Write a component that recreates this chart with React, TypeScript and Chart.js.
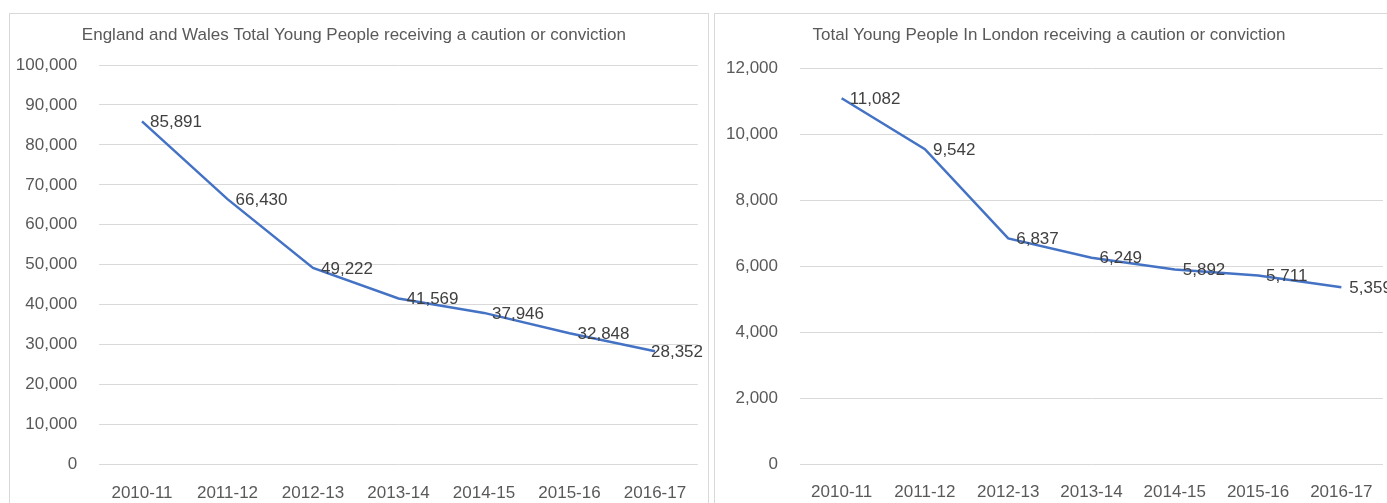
import React, { useEffect, useRef } from "react";
import { Chart, registerables } from "chart.js";

Chart.register(...registerables);

const categories = ["2010-11", "2011-12", "2012-13", "2013-14", "2014-15", "2015-16", "2016-17"];
const englandWalesValues = [85891, 66430, 49222, 41569, 37946, 32848, 28352];
const londonValues = [11082, 9542, 6837, 6249, 5892, 5711, 5359];
const englandWalesTicks = [0, 10000, 20000, 30000, 40000, 50000, 60000, 70000, 80000, 90000, 100000];
const londonTicks = [0, 2000, 4000, 6000, 8000, 10000, 12000];

const englandWalesTitle = "England and Wales Total Young People receiving a caution or conviction";
const londonTitle = "Total Young People In London receiving a caution or conviction";

const FONT = "'Liberation Sans', Arial, sans-serif";
const FONT_SIZE = 17;
const LINE_COLOR = "#4472C4";
const TEXT_COLOR = "#595959";
const LABEL_COLOR = "#404040";
const GRID_COLOR = "#d9d9d9";

const fmt = (v: number) => v.toLocaleString("en-US");

const dataLabelPlugin = {
  id: "pointLabels",
  afterDatasetsDraw(chart: any) {
    const ctx = chart.ctx;
    const meta = chart.getDatasetMeta(0);
    const data = chart.data.datasets[0].data as number[];
    ctx.save();
    ctx.font = `${FONT_SIZE}px ${FONT}`;
    ctx.fillStyle = LABEL_COLOR;
    ctx.textAlign = "left";
    ctx.textBaseline = "middle";
    meta.data.forEach((pt: any, i: number) => {
      const text = fmt(data[i]);
      const w = ctx.measureText(text).width;
      const x = Math.min(pt.x + 8, chart.width - 5 - w);
      ctx.fillText(text, x, pt.y + 1);
    });
    ctx.restore();
  },
};

type PanelProps = {
  title: string;
  values: number[];
  ticks: number[];
  frameLeft: number;
  canvasW: number;
  canvasH: number;
  plotLeft: number;
  plotRight: number;
  plotTop: number;
  plotBottom: number;
};

function Panel(p: PanelProps) {
  const ref = useRef<HTMLCanvasElement | null>(null);
  useEffect(() => {
    if (!ref.current) return;
    const tickMin = p.ticks[0];
    const tickMax = p.ticks[p.ticks.length - 1];
    const step = p.ticks[1] - p.ticks[0];
    const titleLine = FONT_SIZE * 1.2;
    const titleCenter = 21;
    const titleTop = titleCenter - titleLine / 2;
    const titleBottom = p.plotTop - titleTop - titleLine;
    const chart = new Chart(ref.current, {
      type: "line",
      data: {
        labels: categories,
        datasets: [
          {
            data: p.values,
            borderColor: LINE_COLOR,
            backgroundColor: LINE_COLOR,
            borderWidth: 2.5,
            pointRadius: 0,
            tension: 0,
            fill: false,
          },
        ],
      },
      options: {
        responsive: false,
        animation: false,
        devicePixelRatio: 1,
        layout: {
          padding: { left: 0, top: 0, bottom: 0, right: p.canvasW - p.plotRight },
        },
        plugins: {
          legend: { display: false },
          tooltip: { enabled: false },
          title: {
            display: true,
            text: p.title,
            color: TEXT_COLOR,
            font: { family: FONT, size: FONT_SIZE, weight: "normal" as any },
            padding: { top: titleTop, bottom: titleBottom },
          },
        },
        scales: {
          x: {
            type: "category",
            offset: true,
            grid: { display: false, drawTicks: false },
            border: { display: false },
            ticks: {
              color: TEXT_COLOR,
              font: { family: FONT, size: FONT_SIZE },
              padding: 18.3,
              maxRotation: 0,
              autoSkip: false,
            },
            afterFit(scale: any) {
              scale.height = p.canvasH - p.plotBottom;
            },
          },
          y: {
            min: tickMin,
            max: tickMax,
            grid: { color: GRID_COLOR, lineWidth: 1, drawTicks: false },
            border: { display: false },
            ticks: {
              stepSize: step,
              color: TEXT_COLOR,
              font: { family: FONT, size: FONT_SIZE },
              padding: 22,
              callback: (v: any) => fmt(Number(v)),
            },
            afterFit(scale: any) {
              scale.width = p.plotLeft;
            },
          },
        },
      },
      plugins: [dataLabelPlugin],
    });
    return () => chart.destroy();
  }, []);

  return (
    <div
      style={{
        position: "absolute",
        left: p.frameLeft,
        top: 13,
        width: p.canvasW + 2,
        height: 520,
        border: "1px solid #d9d9d9",
        boxSizing: "border-box",
        background: "#fff",
      }}
    >
      <canvas
        ref={ref}
        width={p.canvasW}
        height={p.canvasH}
        style={{ display: "block", width: p.canvasW, height: p.canvasH }}
      />
    </div>
  );
}

export default function App() {
  return (
    <div
      style={{
        position: "fixed",
        left: 0,
        top: 0,
        width: 1387,
        height: 503,
        overflow: "hidden",
        background: "#fff",
      }}
    >
      <Panel
        title={englandWalesTitle}
        values={englandWalesValues}
        ticks={englandWalesTicks}
        frameLeft={9}
        canvasW={698}
        canvasH={489}
        plotLeft={89.25}
        plotRight={687.75}
        plotTop={51}
        plotBottom={450.5}
      />
      <Panel
        title={londonTitle}
        values={londonValues}
        ticks={londonTicks}
        frameLeft={714}
        canvasW={687}
        canvasH={489}
        plotLeft={85}
        plotRight={668}
        plotTop={54}
        plotBottom={450}
      />
    </div>
  );
}
